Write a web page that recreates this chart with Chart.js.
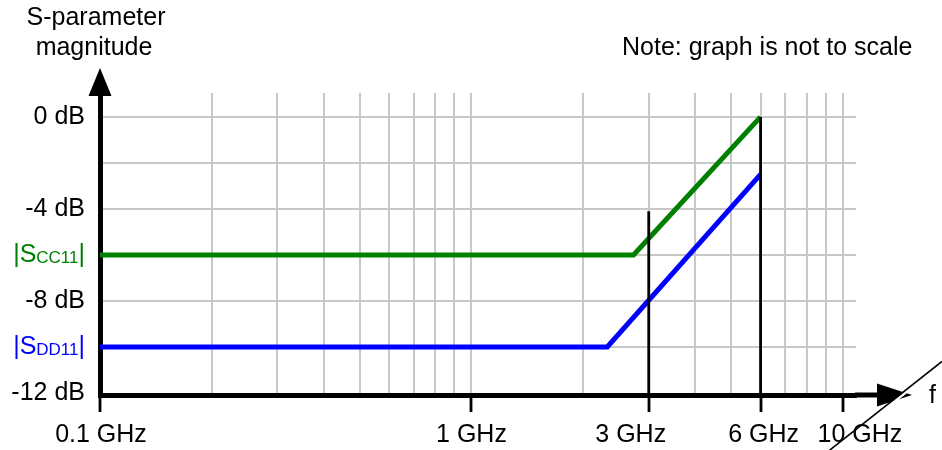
<!DOCTYPE html>
<html>
<head>
<meta charset="utf-8">
<script src="https://cdn.jsdelivr.net/npm/chart.js@4.4.1/dist/chart.umd.min.js"></script>
<style>
  html, body { margin: 0; padding: 0; background: #fff; }
  canvas { display: block; }
</style>
</head>
<body>
<canvas id="chart" width="942" height="450"></canvas>
<script>
// frequency in GHz, magnitude in dB
const freqCC = [0.1, 2.73, 6];
const magCC = [-6, -6, 0];
const freqDD = [0.1, 2.32, 6];
const magDD = [-10, -10, -2.5];

// black vertical markers at 3 and 6 GHz
const markerFreq = [3, 6];
const markerTop = [-4.1, 0];

const gridFreqs = [0.1, 0.2, 0.3, 0.4, 0.5, 0.6, 0.7, 0.8, 0.9, 1, 2, 3, 4, 5, 6, 7, 8, 9, 10];
const xLabelFreqs = [0.1, 1, 3, 6, 10];
const xLabels = ['0.1 GHz', '1 GHz', '3 GHz', '6 GHz', '10 GHz'];
const yGrid = [-12, -10, -8, -6, -4, -2, 0];
const yLabelValues = [0, -4, -8, -12];
const yLabels = ['0 dB', '-4 dB', '-8 dB', '-12 dB'];
const seriesNames = [['|S', 'CC11', '|'], ['|S', 'DD11', '|']];

const FAMILY = '"Liberation Sans", Arial, Helvetica, sans-serif';
const GREEN = '#008000';
const BLUE = '#0000ff';
const yMin = -12.087;

Chart.defaults.font.family = FAMILY;
Chart.defaults.font.size = 25;
Chart.defaults.color = '#000';

function subLabel(ctx, parts, color, right, base) {
    const big = '25px ' + FAMILY, small = '17px ' + FAMILY;
    ctx.font = big;
    const w1 = ctx.measureText(parts[0]).width;
    const w3 = ctx.measureText(parts[2]).width;
    ctx.font = small;
    const w2 = ctx.measureText(parts[1]).width;
    let cx = right - (w1 + w2 + w3);
    ctx.fillStyle = color;
    ctx.textAlign = 'left';
    ctx.textBaseline = 'alphabetic';
    ctx.font = big;
    ctx.fillText(parts[0], cx, base);
    cx += w1;
    ctx.font = small;
    ctx.fillText(parts[1], cx, base + 1);
    cx += w2;
    ctx.font = big;
    ctx.fillText(parts[2], cx, base);
}

const overlay = {
    id: 'overlay',
    afterDraw(chart) {
        const ctx = chart.ctx;
        const xs = chart.scales.x, ys = chart.scales.y;
        const area = chart.chartArea;
        ctx.save();

        // y axis arrow
        const ax = xs.getPixelForValue(0.1);
        ctx.fillStyle = '#000';
        ctx.beginPath();
        ctx.moveTo(ax, 68);
        ctx.lineTo(ax - 11.5, 96);
        ctx.lineTo(ax + 11.5, 96);
        ctx.closePath();
        ctx.fill();

        // x axis extension + arrow
        const ay = area.bottom;
        ctx.strokeStyle = '#000';
        ctx.lineWidth = 5;
        ctx.beginPath();
        ctx.moveTo(area.right - 1, ay);
        ctx.lineTo(880, ay);
        ctx.stroke();
        ctx.beginPath();
        ctx.moveTo(877, ay - 11.5);
        ctx.lineTo(912, ay);
        ctx.lineTo(877, ay + 11.5);
        ctx.closePath();
        ctx.fill();

        // axis break
        const k = -0.79;
        ctx.strokeStyle = '#fff';
        ctx.lineWidth = 2.5;
        ctx.beginPath();
        ctx.moveTo(883 + 3, 442 + k * (883 - 840));
        ctx.lineTo(905 + 3, 442 + k * (905 - 840));
        ctx.stroke();
        ctx.strokeStyle = '#000';
        ctx.lineWidth = 1.6;
        ctx.beginPath();
        ctx.moveTo(826, 442 + k * (826 - 840));
        ctx.lineTo(942, 442 + k * (942 - 840));
        ctx.stroke();

        // texts
        ctx.fillStyle = '#000';
        ctx.font = '25px ' + FAMILY;
        ctx.textBaseline = 'alphabetic';
        ctx.textAlign = 'center';
        ctx.fillText('S-parameter', 96, 25);
        ctx.fillText('magnitude', 94, 55);
        ctx.textAlign = 'left';
        ctx.fillText('Note: graph is not to scale', 622, 55);
        ctx.fillText('f', 929, 403);

        const nudge = [1, 0, -18, 3, 17];
        ctx.textAlign = 'center';
        xLabelFreqs.forEach((f, i) => {
            ctx.fillText(xLabels[i], xs.getPixelForValue(f) + nudge[i], 442);
        });

        subLabel(ctx, seriesNames[0], GREEN, 85, ys.getPixelForValue(magCC[0]) + 7);
        subLabel(ctx, seriesNames[1], BLUE, 85, ys.getPixelForValue(magDD[0]) + 7);

        ctx.restore();
    }
};

const markerSets = markerFreq.map((f, i) => ({
    data: [{ x: f, y: markerTop[i] }, { x: f, y: yMin }],
    borderColor: '#000',
    borderWidth: 2.8,
    pointRadius: 0
}));

new Chart(document.getElementById('chart'), {
    type: 'line',
    data: {
        datasets: [
            ...markerSets,
            {
                data: freqCC.map((f, i) => ({ x: f, y: magCC[i] })),
                borderColor: GREEN,
                borderWidth: 5,
                pointRadius: 0,
                borderJoinStyle: 'miter'
            },
            {
                data: freqDD.map((f, i) => ({ x: f, y: magDD[i] })),
                borderColor: BLUE,
                borderWidth: 5,
                pointRadius: 0,
                borderJoinStyle: 'miter'
            }
        ]
    },
    options: {
        responsive: false,
        devicePixelRatio: 1,
        animation: false,
        layout: { padding: { top: 93, right: 86, bottom: 0, left: 0 } },
        plugins: { legend: { display: false }, tooltip: { enabled: false } },
        elements: { line: { tension: 0 } },
        scales: {
            x: {
                type: 'logarithmic',
                min: 0.1,
                max: 10.84,
                afterBuildTicks: s => { s.ticks = gridFreqs.map(v => ({ value: v })); },
                afterFit: s => { s.height = 55; },
                ticks: { display: false },
                grid: {
                    color: '#c8c8c8',
                    lineWidth: 2,
                    tickLength: 17,
                    tickWidth: 2.8,
                    tickColor: c => xLabelFreqs.includes(c.tick.value) ? '#000' : 'rgba(0,0,0,0)'
                },
                border: { color: '#000', width: 5 }
            },
            y: {
                min: yMin,
                max: 1.04,
                afterBuildTicks: s => { s.ticks = yGrid.map(v => ({ value: v })); },
                afterFit: s => { s.width = 100; },
                ticks: {
                    padding: 15,
                    callback: v => {
                        const i = yLabelValues.indexOf(v);
                        return i >= 0 ? yLabels[i] : '';
                    }
                },
                grid: {
                    color: c => c.tick.value === -12 ? 'rgba(0,0,0,0)' : '#c8c8c8',
                    lineWidth: 2,
                    drawTicks: false
                },
                border: { color: '#000', width: 5 }
            }
        }
    },
    plugins: [overlay]
});
</script>
</body>
</html>
